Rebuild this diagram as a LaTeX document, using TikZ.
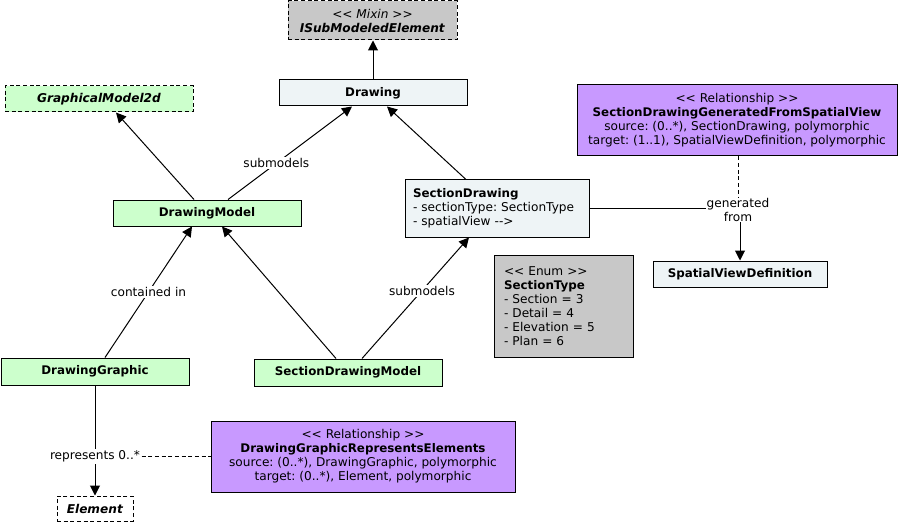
\documentclass[tikz,border=0pt]{standalone}
\usepackage{fontspec}
\setmainfont{DejaVu Sans}
\usetikzlibrary{arrows.meta}
\definecolor{lblue}{HTML}{EEF4F6}
\definecolor{lgreen}{HTML}{CCFFCC}
\definecolor{lgray}{HTML}{C8C8C8}
\definecolor{lpurple}{HTML}{C899FF}
\newcommand\lgui{\mbox{<}\mbox{<}}
\newcommand\rgui{\mbox{>}\mbox{>}}
\newcommand\bx[1]{{\fontsize{8.9}{10.5}\selectfont\bfseries #1}}
\frenchspacing
\begin{document}
\begin{tikzpicture}[x=0.75pt,y=-0.75pt,
  font=\fontsize{9.1}{10.5}\selectfont,
  box/.style={draw, line width=0.75pt, inner sep=0pt, align=center},
  dbox/.style={box, dash pattern=on 3pt off 2pt},
  conn/.style={line width=0.75pt},
  arr/.style={conn, -{Triangle[length=7.5pt,width=7.5pt]}},
  dconn/.style={line width=0.75pt, dash pattern=on 3pt off 2pt},
  lbl/.style={fill=white, inner sep=1pt, align=center}]
\useasboundingbox (0,0) rectangle (899,524);

\node[dbox, fill=lgray, minimum width=126.75pt, minimum height=29.25pt] (ism) at (372.5,20.5)
  {\textit{\lgui{} Mixin \rgui}\\\textbf{\textit{ISubModeledElement}}};
\node[box, fill=lblue, minimum width=141pt, minimum height=19.5pt] (drawing) at (373,93) {\bx{Drawing}};
\node[dbox, fill=lgreen, minimum width=141pt, minimum height=19.5pt] (gm) at (99,99) {\textbf{\textit{GraphicalModel2d}}};
\node[box, fill=lgreen, minimum width=141pt, minimum height=19.5pt] (dm) at (207,213) {\bx{DrawingModel}};
\node[box, fill=lblue, align=left, inner xsep=6pt, text width=126pt, minimum height=42.75pt] (sd) at (497,208.5)
  {\bx{SectionDrawing}\\- sectionType: SectionType\\- spatialView \mbox{-}\mbox{-}>};
\node[box, fill=lpurple, minimum width=240pt, minimum height=53.25pt] (rel1) at (737,120.5)
  {\lgui{} Relationship \rgui\\\bx{SectionDrawingGeneratedFromSpatialView}\\source: (0..*), SectionDrawing, polymorphic\\target: (1..1), SpatialViewDefinition, polymorphic};
\node[box, fill=lblue, minimum width=130.5pt, minimum height=19.5pt] (svd) at (740,274) {\bx{SpatialViewDefinition}};
\node[box, fill=lgray, align=left, inner xsep=7.5pt, text width=89.25pt, minimum height=76.5pt] (enum) at (563.5,306)
  {\lgui{} Enum \rgui\\\bx{SectionType}\\- Section = 3\\- Detail = 4\\- Elevation = 5\\- Plan = 6};
\node[box, fill=lgreen, minimum width=141pt, minimum height=20.25pt] (dg) at (95,371.5) {\bx{DrawingGraphic}};
\node[box, fill=lgreen, minimum width=141pt, minimum height=20.25pt] (sdm) at (348,372.5) {\bx{SectionDrawingModel}};
\node[box, fill=lpurple, minimum width=228pt, minimum height=53.25pt] (rel2) at (363,456.5)
  {\lgui{} Relationship \rgui\\\bx{DrawingGraphicRepresentsElements}\\source: (0..*), DrawingGraphic, polymorphic\\target: (0..*), Element, polymorphic};
\node[dbox, fill=white, minimum width=57pt, minimum height=18.75pt] (elem) at (95,508.5) {\textbf{\textit{Element}}};

% connectors
\draw[arr] (drawing.north) -- (drawing.north |- ism.south);
\draw[arr] ([xshift=-9.75pt]dm.north) -- ([xshift=12.75pt]gm.south);
\draw[arr] ([xshift=15.75pt]dm.north) -- node[lbl, pos=0.39] (l1) {submodels} ([xshift=-15.75pt]drawing.south);
\draw[arr] ([xshift=-23.25pt]sd.north) -- ([xshift=10.5pt]drawing.south);
\draw[arr] ([xshift=7.5pt]dg.north) -- node[lbl, pos=0.5] (l2) {contained in} ([xshift=-11.25pt]dm.south);
\draw[arr] ([xshift=-9pt]sdm.north) -- ([xshift=11.25pt]dm.south);
\draw[arr] ([xshift=10.5pt]sdm.north) -- node[lbl, pos=0.56] (l3) {submodels} ([xshift=-21pt]sd.south);
\draw[arr] (sd.east) -| (svd.north);
\node[lbl, inner sep=0.5pt] (gen) at (738,209.5) {generated\\from};
\draw[dconn] (rel1.south -| gen.north) -- (gen.north);
\draw[arr] (dg.south) -- (elem.north);
\node[lbl] (rep) at (95,456.5) {represents 0..*};
\draw[dconn] (rep.east) -- (rep.east -| rel2.west);
\end{tikzpicture}
\end{document}
